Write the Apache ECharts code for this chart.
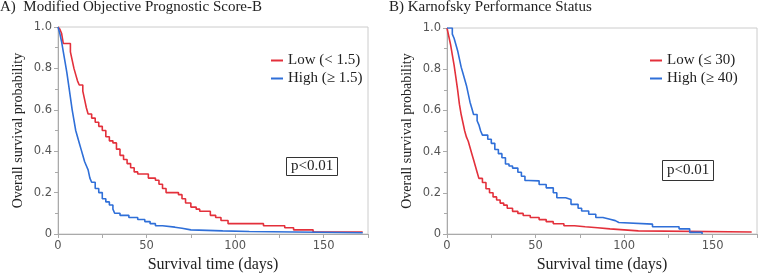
<!DOCTYPE html>
<html>
<head>
<meta charset="utf-8">
<script src="https://cdn.jsdelivr.net/npm/echarts@6/dist/echarts.min.js"></script>
<style>
  html, body { margin: 0; padding: 0; background: #fff; }
  #chart { width: 760px; height: 278px; }
</style>
</head>
<body>
<div id="chart"></div>
<script>
// 生存曲线数据 (days, survival probability)
var mopsLowT  = [0, 1, 2, 3, 7, 8, 9, 10, 11, 12, 14, 15, 16, 17, 19, 21, 23, 25, 27, 29, 31, 33, 35, 37, 39, 41, 43, 45, 51, 55, 57, 59, 61, 68, 70, 72, 75, 78, 80, 86, 89, 92, 96, 116, 128, 133, 144, 172];
var mopsLowS  = [1.0, 0.99, 0.97, 0.92, 0.88, 0.84, 0.80, 0.77, 0.74, 0.72, 0.69, 0.65, 0.61, 0.58, 0.56, 0.54, 0.52, 0.50, 0.47, 0.45, 0.44, 0.41, 0.38, 0.36, 0.34, 0.32, 0.30, 0.29, 0.27, 0.26, 0.24, 0.22, 0.20, 0.19, 0.17, 0.15, 0.13, 0.12, 0.11, 0.09, 0.08, 0.065, 0.05, 0.04, 0.03, 0.02, 0.01, 0.01];
var mopsHighT = [0, 1, 2, 3, 4, 5, 6, 7, 8, 9, 10, 11, 12, 13, 14, 15, 16, 17, 18, 19, 21, 23, 25, 27, 29, 31, 32, 35, 40, 45, 49, 52, 55, 59, 66, 70, 75, 93, 108, 172];
var mopsHighS = [1.0, 0.97, 0.93, 0.88, 0.83, 0.78, 0.72, 0.66, 0.60, 0.55, 0.50, 0.47, 0.44, 0.41, 0.38, 0.35, 0.33, 0.31, 0.27, 0.25, 0.22, 0.20, 0.17, 0.155, 0.14, 0.12, 0.10, 0.09, 0.08, 0.07, 0.06, 0.05, 0.04, 0.033, 0.028, 0.02, 0.015, 0.012, 0.006, 0.006];

var kpsLowT  = [0, 1, 2, 3, 4, 5, 6, 7, 8, 9, 10, 11, 12, 13, 14, 15, 16, 17, 18, 20, 22, 24, 26, 28, 30, 32, 34, 37, 40, 43, 47, 52, 56, 60, 66, 72, 78, 85, 92, 100, 108, 172];
var kpsLowS  = [1.0, 0.96, 0.92, 0.87, 0.82, 0.76, 0.70, 0.63, 0.58, 0.54, 0.50, 0.47, 0.45, 0.42, 0.39, 0.36, 0.33, 0.30, 0.27, 0.25, 0.22, 0.20, 0.18, 0.165, 0.15, 0.14, 0.125, 0.11, 0.10, 0.09, 0.08, 0.07, 0.06, 0.05, 0.04, 0.035, 0.03, 0.025, 0.02, 0.015, 0.01, 0.008];
var kpsHighT = [0, 3, 4, 5, 6, 7, 8, 9, 10, 11, 12, 13, 14, 15, 17, 18, 19, 20, 23, 25, 27, 29, 31, 33, 35, 37, 40, 42, 44, 46, 52, 56, 60, 62, 67, 70, 74, 76, 80, 84, 88, 92, 95, 97, 116, 131, 137, 144];
var kpsHighS = [1.0, 0.97, 0.95, 0.92, 0.89, 0.85, 0.81, 0.78, 0.75, 0.72, 0.68, 0.64, 0.61, 0.58, 0.55, 0.53, 0.50, 0.48, 0.46, 0.44, 0.41, 0.39, 0.37, 0.34, 0.33, 0.32, 0.30, 0.28, 0.26, 0.258, 0.24, 0.224, 0.20, 0.176, 0.168, 0.144, 0.125, 0.112, 0.096, 0.08, 0.072, 0.065, 0.056, 0.048, 0.035, 0.025, 0.008, 0.0];

var xTicks = [0, 50, 100, 150];
var yTickLabels = ['0', '0.2', '0.4', '0.6', '0.8', '1.0'];

var panelTitles = ['A)  Modified Objective Prognostic Score-B', 'B) Karnofsky Performance Status'];
var seriesNames = [['Low (< 1.5)', 'High (\u2265 1.5)'], ['Low (\u2264 30)', 'High (\u2265 40)']];
var pText = 'p<0.01';

var RED = '#e3303b';
var BLUE = '#2f6fd8';
var SERIF = '"Liberation Serif", "Times New Roman", serif';
var SANS = 'Tahoma, "DejaVu Sans", Verdana, sans-serif';

function zipPts(t, s) {
    var out = [];
    for (var i = 0; i < t.length; i++) {
        out.push([t[i], s[i]]);
    }
    return out;
}

function makeX(idx) {
    return {
        type: 'value', gridIndex: idx, min: 0, max: 175, interval: 50,
        name: 'Survival time (days)', nameLocation: 'middle', nameGap: 23,
        nameTextStyle: { fontFamily: SERIF, fontSize: 16, color: '#222' },
        axisLine: { lineStyle: { color: '#aaa' } },
        axisTick: { show: true, length: 4, inside: false, lineStyle: { color: '#aaa' } },
        minorTick: { show: true, splitNumber: 2, length: 4, lineStyle: { color: '#aaa' } },
        axisLabel: {
            color: '#555', fontFamily: SANS, fontSize: 11.5, margin: 6,
            formatter: function (v) { return xTicks.indexOf(v) >= 0 ? String(v) : ''; }
        },
        splitLine: { show: false }
    };
}

function makeY(idx) {
    return {
        type: 'value', gridIndex: idx, min: 0, max: 1, interval: 0.2,
        name: 'Overall survival probability', nameLocation: 'middle', nameGap: 33,
        nameTextStyle: { fontFamily: SERIF, fontSize: 14, color: '#222' },
        axisLine: { show: true, lineStyle: { color: '#aaa' } },
        axisTick: { show: true, length: 4, lineStyle: { color: '#aaa' } },
        minorTick: { show: true, splitNumber: 2, length: 3, lineStyle: { color: '#aaa' } },
        axisLabel: {
            color: '#555', fontFamily: SANS, fontSize: 11.5, margin: 6,
            formatter: function (v) { return yTickLabels[Math.round(v / 0.2)]; }
        },
        splitLine: { show: false }
    };
}

function makeLine(name, idx, t, s, color) {
    return {
        name: name, type: 'line', xAxisIndex: idx, yAxisIndex: idx,
        step: 'end', showSymbol: false, symbol: 'none',
        lineStyle: { color: color, width: 1.6 },
        itemStyle: { color: color },
        data: zipPts(t, s),
        silent: true, animation: false
    };
}

function makeLegend(idx, left) {
    return {
        data: seriesNames[idx], orient: 'vertical', left: left, top: 48,
        icon: 'rect', itemWidth: 12, itemHeight: 2, itemGap: 3,
        textStyle: { fontFamily: SERIF, fontSize: 15, color: '#222' },
        selectedMode: false
    };
}

var chart = echarts.init(document.getElementById('chart'));
chart.setOption({
    backgroundColor: '#fff',
    animation: false,
    title: [
        { text: panelTitles[0], left: 0, top: 0, padding: 0,
          textStyle: { fontFamily: SERIF, fontSize: 15, fontWeight: 'normal', color: '#222' } },
        { text: panelTitles[1], left: 389, top: 0, padding: 0,
          textStyle: { fontFamily: SERIF, fontSize: 15, fontWeight: 'normal', color: '#222' } },
        { text: pText, left: 286, top: 157, padding: [2, 5, 2, 5], borderColor: '#333', borderWidth: 1,
          textStyle: { fontFamily: SERIF, fontSize: 15, fontWeight: 'normal', color: '#222' } },
        { text: pText, left: 662, top: 160, padding: [3, 5, 3, 5], borderColor: '#333', borderWidth: 1,
          textStyle: { fontFamily: SERIF, fontSize: 15, fontWeight: 'normal', color: '#222' } }
    ],
    legend: [makeLegend(0, 266), makeLegend(1, 645)],
    grid: [
        { left: 58, top: 27, width: 310, height: 209, show: true, borderColor: '#ccc', borderWidth: 1, backgroundColor: 'transparent' },
        { left: 447, top: 28, width: 310, height: 209, show: true, borderColor: '#ccc', borderWidth: 1, backgroundColor: 'transparent' }
    ],
    xAxis: [makeX(0), makeX(1)],
    yAxis: [makeY(0), makeY(1)],
    series: [
        makeLine(seriesNames[0][0], 0, mopsLowT, mopsLowS, RED),
        makeLine(seriesNames[0][1], 0, mopsHighT, mopsHighS, BLUE),
        makeLine(seriesNames[1][0], 1, kpsLowT, kpsLowS, RED),
        makeLine(seriesNames[1][1], 1, kpsHighT, kpsHighS, BLUE)
    ]
});
</script>
</body>
</html>
